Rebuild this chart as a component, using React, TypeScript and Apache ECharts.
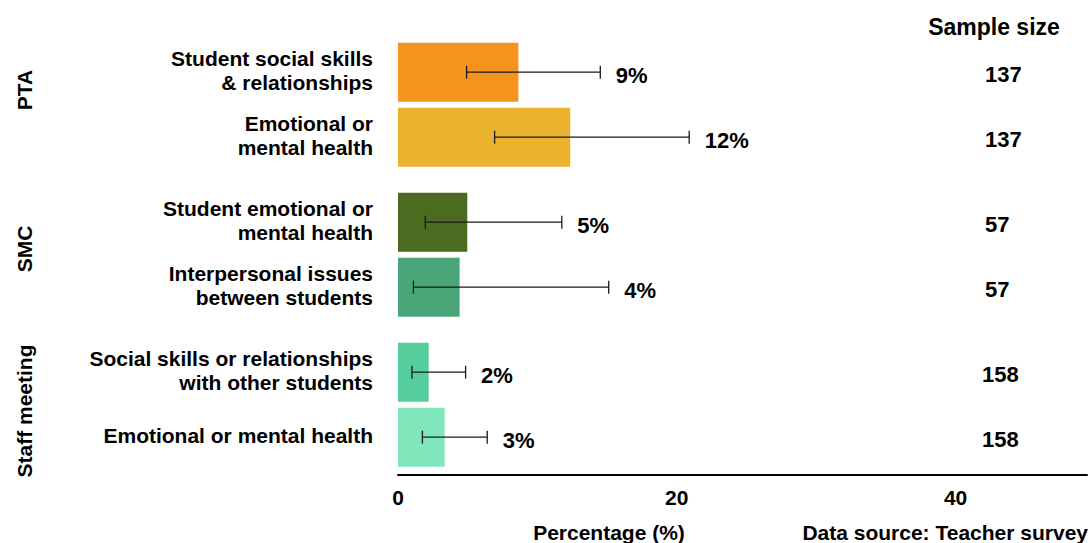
import React, { useEffect, useRef } from 'react';
import * as echarts from 'echarts';

const groups = ['PTA', 'SMC', 'Staff meeting'];
const categories = [
  ['Student social skills\n& relationships', 'Emotional or\nmental health'],
  ['Student emotional or\nmental health', 'Interpersonal issues\nbetween students'],
  ['Social skills or relationships\nwith other students', 'Emotional or mental health'],
];
const values = [
  [8.6, 12.3],
  [4.95, 4.4],
  [2.2, 3.35],
];
const lower = [
  [4.9, 6.9],
  [1.95, 1.1],
  [1.0, 1.75],
];
const upper = [
  [14.45, 20.8],
  [11.7, 15.05],
  [4.85, 6.4],
];
const sampleSizes = [
  ['137', '137'],
  ['57', '57'],
  ['158', '158'],
];
const colors = [
  ['#F6931E', '#EBB22F'],
  ['#4B6B20', '#4AA678'],
  ['#55CD9C', '#80E6BC'],
];
const xTicks = [0, 20, 40];

const FONT = "'Liberation Sans', Arial, Helvetica, sans-serif";

export default function App() {
  const ref = useRef<HTMLDivElement>(null);
  useEffect(() => {
    document.body.style.margin = '0';
    if (!ref.current) return;
    const chart = echarts.init(ref.current, null, { renderer: 'svg' });
    const gridTops = [39.7, 189.7, 339.7];
    const xMax = 692 / 14;
    const txt = (size: number, lh?: number) => ({
      fontSize: size,
      fontWeight: 'bold',
      fontFamily: FONT,
      color: '#000',
      ...(lh ? { lineHeight: lh } : {}),
    });
    const option: any = {
      animation: false,
      backgroundColor: '#ffffff',
      textStyle: { fontFamily: FONT },
      grid: gridTops.map((t) => ({ left: 398, right: 0, top: t, height: 130 })),
      xAxis: gridTops.map((_, g) => ({
        type: 'value',
        gridIndex: g,
        min: 0,
        max: xMax,
        interval: 20,
        show: g === 2,
        offset: 5,
        axisLine: { show: true, lineStyle: { color: '#000', width: 2 } },
        axisTick: { show: false },
        splitLine: { show: false },
        axisLabel: {
          ...txt(21),
          margin: 12,
          formatter: (v: number) => (xTicks.includes(v) ? String(v) : ''),
        },
      })),
      yAxis: gridTops.flatMap((_, g) => [
        {
          type: 'category',
          gridIndex: g,
          inverse: true,
          data: categories[g],
          axisLine: { show: false },
          axisTick: { show: false },
          splitLine: { show: false },
          axisLabel: {
            ...txt(21, 24),
            margin: 25,
            align: 'right',
            formatter: (v: string) =>
              v.split('\n').map((l) => `{a|${l}}`).join('\n') + '\n{s| }',
            rich: {
              a: txt(21, 24),
              s: { fontSize: 4, lineHeight: 4 },
            },
          },
        },
        {
          type: 'category',
          gridIndex: g,
          position: 'right',
          inverse: true,
          data: sampleSizes[g],
          axisLine: { show: false },
          axisTick: { show: false },
          splitLine: { show: false },
          axisLabel: {
            ...txt(22),
            margin: -105,
            align: 'left',
            formatter: (v: string) => `{s| }\n{a|${v}}`,
            rich: {
              a: txt(22, 26),
              s: { fontSize: 5, lineHeight: 5 },
            },
          },
        },
      ]),
      series: gridTops.flatMap((_, g) => [
        {
          type: 'bar',
          xAxisIndex: g,
          yAxisIndex: g * 2,
          barWidth: 59,
          z: 2,
          data: values[g].map((v, i) => ({ value: v, itemStyle: { color: colors[g][i] } })),
        },
        {
          type: 'custom',
          xAxisIndex: g,
          yAxisIndex: g * 2,
          z: 5,
          encode: { x: [1, 2], y: 0 },
          data: values[g].map((v, i) => [i, lower[g][i], upper[g][i], v]),
          renderItem: (params: any, api: any) => {
            const idx = api.value(0);
            const lo = api.coord([api.value(1), idx]);
            const hi = api.coord([api.value(2), idx]);
            const y = lo[1];
            const st = { stroke: '#1a1a1a', lineWidth: 1.3 };
            return {
              type: 'group',
              children: [
                { type: 'line', shape: { x1: lo[0], y1: y, x2: hi[0], y2: y }, style: st },
                { type: 'line', shape: { x1: lo[0], y1: y - 6.5, x2: lo[0], y2: y + 6.5 }, style: st },
                { type: 'line', shape: { x1: hi[0], y1: y - 6.5, x2: hi[0], y2: y + 6.5 }, style: st },
                {
                  type: 'text',
                  x: hi[0] + 15.5,
                  y: y + 3,
                  style: {
                    text: Math.round(api.value(3)) + '%',
                    fill: '#000',
                    fontSize: 22,
                    fontWeight: 'bold',
                    fontFamily: FONT,
                    align: 'left',
                    verticalAlign: 'middle',
                  },
                },
              ],
            };
          },
        },
      ]),
      graphic: [
        ...groups.map((name, g) => ({
          type: 'text',
          x: 24,
          y: [90, 249, 411][g],
          rotation: Math.PI / 2,
          style: {
            text: name,
            fill: '#000',
            fontSize: 21,
            fontWeight: 'bold',
            fontFamily: FONT,
            align: 'center',
            verticalAlign: 'middle',
          },
        })),
        {
          type: 'text',
          x: 994,
          y: 27,
          style: {
            text: 'Sample size',
            fill: '#000',
            fontSize: 23,
            fontWeight: 'bold',
            fontFamily: FONT,
            align: 'center',
            verticalAlign: 'middle',
          },
        },
        {
          type: 'text',
          x: 609,
          y: 532,
          style: {
            text: 'Percentage (%)',
            fill: '#000',
            fontSize: 21,
            fontWeight: 'bold',
            fontFamily: FONT,
            align: 'center',
            verticalAlign: 'middle',
          },
        },
        {
          type: 'text',
          x: 1088,
          y: 532,
          style: {
            text: 'Data source: Teacher survey',
            fill: '#000',
            fontSize: 21,
            fontWeight: 'bold',
            fontFamily: FONT,
            align: 'right',
            verticalAlign: 'middle',
          },
        },
      ],
    };
    chart.setOption(option);
    return () => chart.dispose();
  }, []);
  return <div ref={ref} style={{ width: 1090, height: 543 }} />;
}
